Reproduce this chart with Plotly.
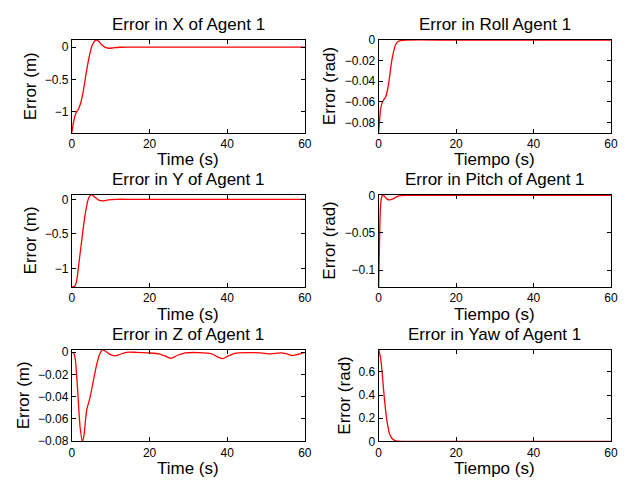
import plotly.graph_objects as go

# ---- tracking error of agent 1 (time in seconds) ----
t_x = [0, 0.4, 1.0, 1.7, 2.3, 3.0, 3.8, 4.6, 5.3, 6.2, 6.9, 7.6, 8.5, 9.5, 10.6, 12.3, 14.8, 20, 30, 40, 50, 60]
e_x = [-1.33, -1.17, -1.03, -0.96, -0.86, -0.66, -0.36, -0.11, 0.04, 0.11, 0.09, 0.04, 0.0, -0.018, -0.012, -0.002, 0.0, 0, 0, 0, 0, 0]

t_y = [0, 0.6, 1.1, 1.45, 2.1, 2.8, 3.5, 4.15, 4.9, 5.5, 6.0, 6.8, 7.9, 9.3, 11.4, 15, 20, 30, 40, 50, 60]
e_y = [-1.266, -1.26, -1.21, -1.09, -0.79, -0.47, -0.19, -0.01, 0.066, 0.05, 0.028, -0.009, -0.023, -0.009, 0.0, 0.0, 0, 0, 0, 0, 0]

t_z = [0, 0.42, 0.85, 1.44, 2.1, 2.7, 3.1, 3.8, 4.65, 5.5, 6.35, 7.2, 7.9, 8.5, 9.7, 11, 12.3, 14, 16.5,
       19.9, 22.4, 24.1, 25.6, 27.1, 29.2, 32.6, 36, 37.6, 38.9, 40.2, 41.9, 45.3, 48.6, 51.2, 53.7,
       55.4, 56.7, 58, 60]
e_z = [0, -0.0006, -0.0058, -0.032, -0.067, -0.0802, -0.075, -0.052, -0.041, -0.026, -0.0116, -0.0014,
       0.0022, 0.0014, -0.0017, -0.0032, -0.002, 0, 0, -0.0006, -0.0014, -0.0035, -0.0055, -0.0029,
       -0.0006, -0.0003, -0.0014, -0.0043, -0.0058, -0.0035, -0.0009, -0.0003, -0.0006, -0.0014,
       -0.0006, -0.0014, -0.0029, -0.002, 0]

t_roll = [0, 0.2, 0.45, 0.8, 1.3, 1.8, 2.3, 2.8, 3.3, 3.8, 4.3, 5.0, 6.0, 7.0, 20, 40, 60]
e_roll = [-0.09, -0.08, -0.068, -0.062, -0.058, -0.055, -0.048, -0.036, -0.022, -0.012, -0.005, -0.0015, -0.0003, 0, 0, 0, 0]

t_pitch = [0, 0.15, 0.3, 0.5, 0.8, 1.1, 1.6, 2.2, 3.0, 3.8, 4.6, 5.5, 7, 20, 40, 60]
e_pitch = [-0.1225, -0.08, -0.04, -0.012, -0.002, 0.0008, -0.002, -0.005, -0.006, -0.0045, -0.002, -0.0005, 0, 0, 0, 0]

t_yaw = [0, 0.5, 0.85, 1.2, 1.5, 1.95, 2.4, 2.8, 3.4, 4.1, 4.9, 6.2, 20, 40, 60]
e_yaw = [0.79, 0.72, 0.61, 0.47, 0.36, 0.22, 0.125, 0.065, 0.027, 0.009, 0.002, 0, 0, 0, 0]

# ---- titles and tick labels ----
titles = ["Error in X of Agent 1", "Error in Roll Agent 1",
          "Error in Y of Agent 1", "Error in Pitch of Agent 1",
          "Error in Z of Agent 1", "Error in Yaw of Agent 1"]
x_labels = ["Time (s)", "Tiempo (s)", "Time (s)", "Tiempo (s)", "Time (s)", "Tiempo (s)"]
y_labels = ["Error (m)", "Error (rad)", "Error (m)", "Error (rad)", "Error (m)", "Error (rad)"]

x_tickvals = [0, 20, 40, 60]
x_ticktext = ["0", "20", "40", "60"]

ytick_x = [-1, -0.5, 0]
ytext_x = ["\u22121", "\u22120.5", "0"]
ytick_roll = [-0.08, -0.06, -0.04, -0.02, 0]
ytext_roll = ["\u22120.08", "\u22120.06", "\u22120.04", "\u22120.02", "0"]
ytick_y = [-1, -0.5, 0]
ytext_y = ["\u22121", "\u22120.5", "0"]
ytick_pitch = [-0.1, -0.05, 0]
ytext_pitch = ["\u22120.1", "\u22120.05", "0"]
ytick_z = [-0.08, -0.06, -0.04, -0.02, 0]
ytext_z = ["\u22120.08", "\u22120.06", "\u22120.04", "\u22120.02", "0"]
ytick_yaw = [0, 0.2, 0.4, 0.6]
ytext_yaw = ["0", "0.2", "0.4", "0.6"]

series = [
    (t_x, e_x, ytick_x, ytext_x),
    (t_roll, e_roll, ytick_roll, ytext_roll),
    (t_y, e_y, ytick_y, ytext_y),
    (t_pitch, e_pitch, ytick_pitch, ytext_pitch),
    (t_z, e_z, ytick_z, ytext_z),
    (t_yaw, e_yaw, ytick_yaw, ytext_yaw),
]

# ---- page geometry (pixels) ----
W, H = 635, 486
col_px = [(70, 306.7), (381.7, 617.7)]
row_px = [(34, 129.5), (193.3, 288.3), (353, 447.3)]
ylabel_x = [[28.3, 332], [28, 332], [21, 347.5]]

FONT = "Liberation Sans, Arial, Helvetica, sans-serif"


def px_x(p):
    return p / W


def px_y(p):
    return 1 - p / H


fig = go.Figure()
annotations = []
layout = {}

for i, (t, e, yt, ytxt) in enumerate(series):
    r, c = divmod(i, 2)
    n = "" if i == 0 else str(i + 1)
    x0, x1 = col_px[c]
    y0, y1 = row_px[r]

    fig.add_trace(go.Scatter(
        x=t, y=e, mode="lines",
        line=dict(color="#ff0000", width=1.3, shape="spline", smoothing=0.6),
        xaxis="x" + n, yaxis="y" + n, showlegend=False, hoverinfo="skip",
    ))

    common = dict(
        showline=True, linecolor="black", linewidth=1.1, mirror="ticks",
        ticks="inside", ticklen=4, tickwidth=1, tickcolor="black",
        showgrid=False, zeroline=False,
        tickfont=dict(family=FONT, size=12, color="black"),
    )
    layout["xaxis" + n] = dict(
        domain=[px_x(x0), px_x(x1)], anchor="y" + n, range=[0, 60],
        tickmode="array", tickvals=x_tickvals, ticktext=x_ticktext,
        **common,
    )
    layout["yaxis" + n] = dict(
        domain=[px_y(y1), px_y(y0)], anchor="x" + n,
        range=[min(e), max(e)],
        tickmode="array", tickvals=yt, ticktext=ytxt,
        **common,
    )

    cx = (x0 + x1) / 2
    annotations.append(dict(
        text=titles[i], xref="paper", yref="paper",
        x=px_x(cx), y=px_y(y0 - 16), xanchor="center", yanchor="middle",
        showarrow=False, font=dict(family=FONT, size=17, color="black"),
    ))
    annotations.append(dict(
        text=x_labels[i], xref="paper", yref="paper",
        x=px_x(cx), y=px_y(y1 + 28), xanchor="center", yanchor="middle",
        showarrow=False, font=dict(family=FONT, size=17, color="black"),
    ))
    annotations.append(dict(
        text=y_labels[i], xref="paper", yref="paper", textangle=-90,
        x=px_x(ylabel_x[r][c]), y=px_y((y0 + y1) / 2),
        xanchor="center", yanchor="middle",
        showarrow=False, font=dict(family=FONT, size=17, color="black"),
    ))

fig.update_layout(
    width=W, height=H,
    margin=dict(l=0, r=0, t=0, b=0),
    paper_bgcolor="white", plot_bgcolor="white",
    annotations=annotations,
    **layout,
)

fig.write_html("out.html")
